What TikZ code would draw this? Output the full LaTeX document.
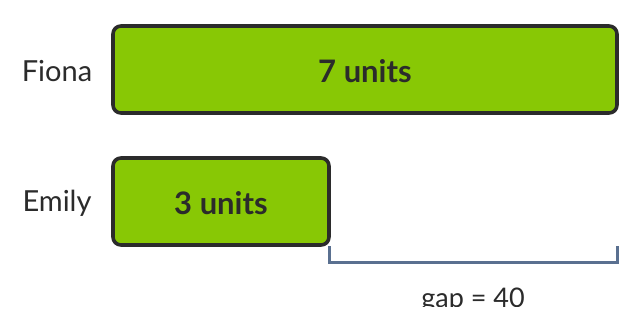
\documentclass[tikz,border=0pt]{standalone}
\usepackage{fontspec}
\setmainfont{Lato}
\definecolor{barfill}{HTML}{88C805}
\definecolor{barline}{HTML}{2B2B2B}
\definecolor{brk}{HTML}{5A7090}
\definecolor{txt}{HTML}{2B2B2B}
\begin{document}
\begin{tikzpicture}[x=1pt,y=-1pt,
  bar/.style={draw=barline,fill=barfill,line width=3.6pt,rounded corners=8pt},
  lab/.style={text=txt,font=\fontsize{29}{34}\selectfont,inner sep=0pt},
  units/.style={text=txt,font=\bfseries\fontsize{31}{36}\selectfont,inner sep=0pt},
  brace/.style={draw=brk,line width=3pt}]
\useasboundingbox (0,0) rectangle (643,330);
\fill[white] (0,0) rectangle (643,330);
\draw[bar] (113,26) rectangle (617,113);
\draw[bar] (113,158) rectangle (329,245);
\coordinate (fb) at (365,71);
\coordinate (eb) at (221,203);
\node[units] (f7) at (fb) {7 units};
\node[units] (e3) at (eb) {3 units};
\node[lab] (fiona) at (57,71) {Fiona};
\node[lab] (emily) at (57,203) {Emily};
\coordinate (b1) at (329,246);
\coordinate (b2) at (617,246);
\draw[brace] (b1) -- ++(0,16) -| (b2);
\begin{scope}
\clip (0,0) rectangle (643,306);
\node[text=txt,font=\fontsize{27}{32}\selectfont,inner sep=0pt,anchor=base] (gap) at (473,307) {gap = 40};
\end{scope}
\end{tikzpicture}
\end{document}
